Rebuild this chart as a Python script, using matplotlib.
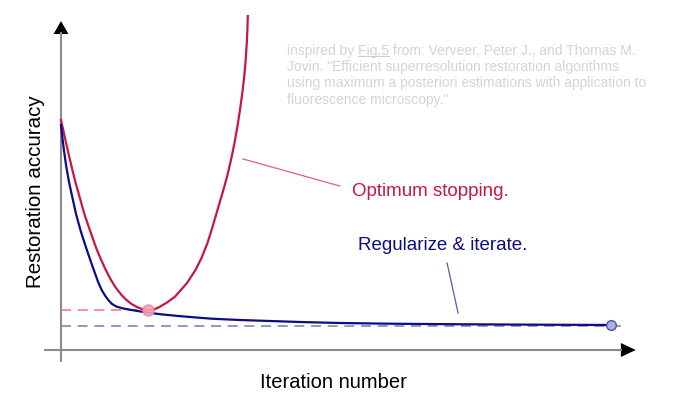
import matplotlib
matplotlib.use("Agg")
import matplotlib.pyplot as plt
from matplotlib.lines import Line2D

plt.rcParams['font.family'] = ['Liberation Sans', 'DejaVu Sans']

# curves (iteration, restoration accuracy)
red_x = [0.000, 0.564, 1.145, 1.855, 2.600, 3.436, 4.309, 5.309, 6.418, 7.309, 8.145, 9.091,
         10.000, 11.000, 11.909, 12.818, 13.818, 14.727, 15.818,
         16.909, 18.000, 19.273, 20.727, 22.909, 24.455, 25.545, 26.636, 27.545, 28.455,
         29.364, 30.182, 30.909, 31.545, 32.091, 32.545, 32.964, 33.309, 33.582, 33.782,
         33.891, 33.964]
red_y = [23.00, 21.60, 20.17, 18.50, 16.83, 15.20, 13.50, 11.90, 10.17, 9.00, 8.00, 7.00,
         6.20, 5.50, 5.00, 4.60, 4.30, 4.10, 4.00,
         4.05, 4.33, 4.75, 5.33, 6.70, 8.00, 9.20, 10.70, 12.30, 14.00,
         15.70, 17.30, 19.00, 20.70, 22.40, 24.00, 25.70, 27.30, 29.00, 30.70,
         32.00, 33.40]

blue_x = [0.00, 0.24, 0.49, 0.91, 1.45, 2.09, 2.78, 3.64, 4.60, 5.64, 6.73, 7.40, 8.00, 8.60,
          9.27, 10.13, 11.45, 12.85, 14.36, 15.87, 18.55, 21.33, 24.36, 27.40, 32.55, 38.00,
          43.45, 50.73, 59.82, 70.73, 83.45, 100.00]
blue_y = [22.50, 21.30, 20.17, 18.50, 16.83, 15.20, 13.50, 11.80, 10.17, 8.50, 6.83, 6.00, 5.45, 5.00,
          4.60, 4.33, 4.14, 4.00, 3.86, 3.73, 3.55, 3.40, 3.26, 3.13, 3.00, 2.90,
          2.80, 2.70, 2.63, 2.58, 2.54, 2.50]

red_opt = (15.82, 4.0)     # optimum stopping point
blue_end = (100, 2.5)      # converged value
blue_limit = 2.4

note = ("inspired by Fig.5 from: Verveer, Peter J., and Thomas M.\n"
        "Jovin. \"Efficient superresolution restoration algorithms\n"
        "using maximum a posteriori estimations with application to\n"
        "fluorescence microscopy.\"")

red = "#c8173f"
navy = "#0c0c86"
grey = "#8a8a8a"

fig = plt.figure(figsize=(6.8, 4.13), dpi=100)
ax = fig.add_axes([0, 0, 1, 1])
ax.set_xlim(-11.09, 112.55)
ax.set_ylim(-6.3, 35)
ax.axis('off')

# axes with arrow heads
ax.plot([0, 0], [-1.2, 31.8], color=grey, lw=1.5, solid_capstyle='butt')
ax.plot([-3.1, 102.0], [0, 0], color=grey, lw=1.5, solid_capstyle='butt')
ax.fill([-1.35, 1.35, 0], [31.6, 31.6, 32.9], color='black', lw=0)
ax.fill([101.8, 101.8, 104.5], [-0.7, 0.7, 0], color='black', lw=0)

# dashed reference levels
ax.plot([0, red_opt[0]], [red_opt[1]] * 2, color="#ee7d96", lw=1.2, dashes=(6, 4))
ax.plot([0, 102.4], [blue_limit] * 2, color="#8383bd", lw=1.2, dashes=(6, 4))

# curves
ax.plot(red_x, red_y, color=red, lw=1.6)
ax.plot(blue_x, blue_y, color=navy, lw=1.6)

ax.plot(*red_opt, 'o', ms=8, mfc="#f3a2b4", mec="#e58aa0", alpha=0.9)
ax.plot(*blue_end, 'o', ms=7, mfc="#a9b0e6", mec="#4b55a8", mew=1)

# leader lines and labels
ax.plot([33.1, 50.7], [19.1, 16.4], color="#e0607a", lw=0.9)
ax.plot([70.2, 72.2], [8.7, 3.7], color="#5a5aa8", lw=0.9)
ax.text(52.9, 15.8, "Optimum stopping.", color=red, fontsize=13.5, va='center', ha='left')
ax.text(54.0, 10.4, "Regularize & iterate.", color=navy, fontsize=13.5, va='center', ha='left')

ax.text(-4.7, 15.8, "Restoration accuracy", rotation=90, fontsize=14.8, ha='center', va='center')
ax.text(49.5, -3.3, "Iteration number", fontsize=14.5, ha='center', va='center')

nx, ny = 41.1, 30.6
fs_note = 10
txt = ax.text(nx, ny, note, color="#d4d4d4", fontsize=fs_note, va='top', ha='left', linespacing=1.2)

# underline "Fig.5"
fig.canvas.draw()
r = fig.canvas.get_renderer()
pre = ax.text(nx, ny, "inspired by ", fontsize=fs_note, va='top', ha='left', alpha=0)
fg = ax.text(nx, ny, "inspired by Fig.5", fontsize=fs_note, va='top', ha='left', alpha=0)
b_pre = pre.get_window_extent(r)
b_fg = fg.get_window_extent(r)
y_line = b_fg.y0 + 1.5
fig.add_artist(Line2D([b_pre.x1 / fig.bbox.width, b_fg.x1 / fig.bbox.width],
                      [y_line / fig.bbox.height] * 2, color="#cccccc", lw=0.8))

fig.savefig("out.png", dpi=100)
